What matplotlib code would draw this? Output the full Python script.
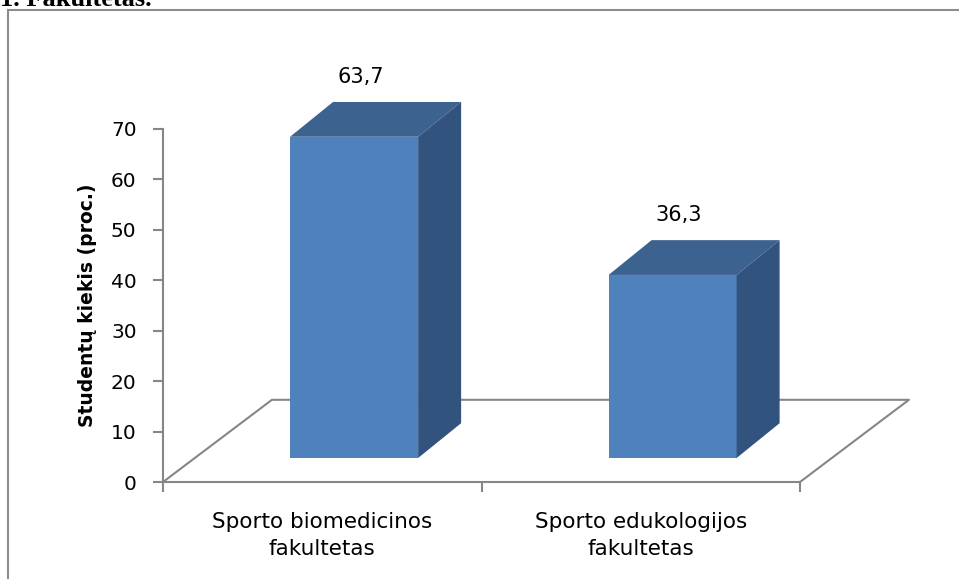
import matplotlib.pyplot as plt
from matplotlib.patches import Rectangle

categories = ['Sporto biomedicinos\nfakultetas', 'Sporto edukologijos\nfakultetas']
values = [63.7, 36.3]
value_labels = ['63,7', '36,3']
y_ticks = [0, 10, 20, 30, 40, 50, 60, 70]

FRONT = '#4F81BD'
TOP = '#3C6290'
SIDE = '#32537D'
GRID = '#868686'

plt.rcParams['font.family'] = ['DejaVu Sans']

W, H = 959, 579
fig = plt.figure(figsize=(W / 100, H / 100), dpi=100)

# frame of the embedded chart (only left and top edges are visible)
fig.patches.append(Rectangle((8 / W, -0.1), 1.2, 1 - 10 / H + 0.1, transform=fig.transFigure,
                             fill=False, edgecolor='#8C8C8C', lw=1.5))
fig.text(0, 1 - 6 / H, '1. Fakultetas.', family='Liberation Serif', weight='bold',
         fontsize=19, va='baseline', ha='left')

ax = fig.add_axes([163 / W, (H - 482) / H, (800 - 163) / W, (482 - 129) / H])
ax.set_xlim(0, 2)
ax.set_ylim(0, 70)

# floor depth vector and bar placement in data units
dx_floor, dy_floor = 0.342, 16.3
bar_off_x, bar_off_y = 0.10, 4.76
bar_dx, bar_dy = 0.135, 6.9
width = 0.402

# floor outline
ax.plot([0, dx_floor, 2 + dx_floor, 2], [0, dy_floor, dy_floor, 0],
        color=GRID, lw=1.5, clip_on=False, zorder=1)

for i, v in enumerate(values):
    xc = i + 0.5 + bar_off_x
    x0, x1 = xc - width / 2, xc + width / 2
    y0, y1 = bar_off_y, bar_off_y + v
    ax.bar(xc, v, width, bottom=y0, color=FRONT, zorder=3, clip_on=False)
    ax.fill([x0, x1, x1 + bar_dx, x0 + bar_dx], [y1, y1, y1 + bar_dy, y1 + bar_dy],
            color=TOP, zorder=3, clip_on=False, lw=0)
    ax.fill([x1, x1 + bar_dx, x1 + bar_dx, x1], [y0, y0 + bar_dy, y1 + bar_dy, y1],
            color=SIDE, zorder=3, clip_on=False, lw=0)
    ax.text(xc + bar_dx * 0.15, y1 + bar_dy + 5, value_labels[i], ha='center', va='center',
            fontsize=15, clip_on=False)

for s in ['top', 'right']:
    ax.spines[s].set_visible(False)
ax.spines['left'].set_color(GRID)
ax.spines['bottom'].set_color(GRID)
ax.spines['left'].set_linewidth(1.5)
ax.spines['bottom'].set_linewidth(1.5)

ax.set_yticks(y_ticks)
ax.set_yticklabels([str(t) for t in y_ticks], fontsize=14.5)
ax.set_xticks([0, 1, 2])
ax.set_xticklabels([])
ax.tick_params(axis='both', colors=GRID, length=7, width=1.5, labelcolor='black')
ax.tick_params(axis='y', pad=12)

for i, c in enumerate(categories):
    ax.text(i + 0.5, -6.0, c, ha='center', va='top', fontsize=15.5, linespacing=1.45)

ax.set_ylabel('Studentų kiekis (proc.)', fontsize=13.5, weight='bold', labelpad=10)
ax.patch.set_visible(False)

fig.savefig('out.png', dpi=100)
